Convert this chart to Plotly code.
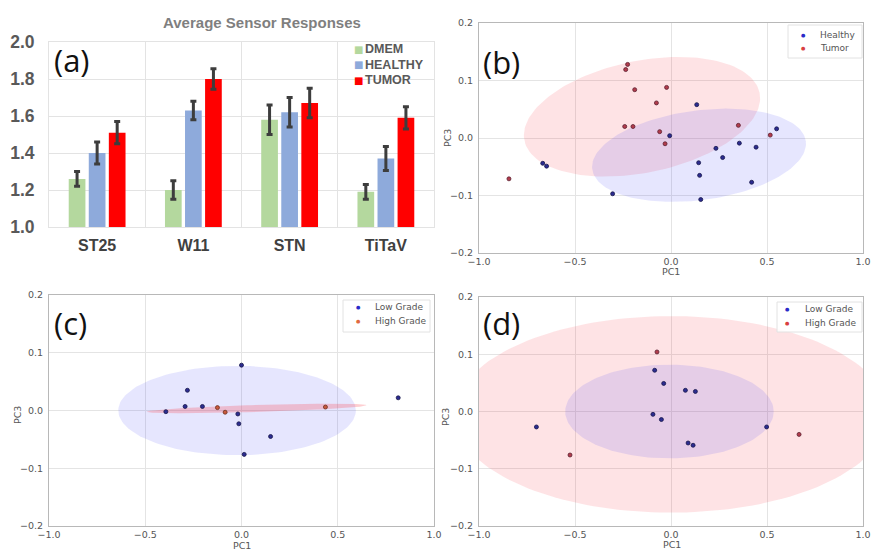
import numpy as np
import plotly.graph_objects as go

W, H = 872, 550

# ---------------- Panel (a) data ----------------
sensors = ["ST25", "W11", "STN", "TiTaV"]
dmem = [1.26, 1.20, 1.58, 1.19]
dmem_err = [0.04, 0.05, 0.08, 0.04]
healthy = [1.40, 1.63, 1.62, 1.37]
healthy_err = [0.06, 0.05, 0.08, 0.065]
tumor = [1.51, 1.80, 1.67, 1.59]
tumor_err = [0.06, 0.055, 0.08, 0.06]

# ---------------- Panel (b) data ----------------
b_healthy_x = [-0.007, 0.134, 0.144, 0.149, 0.155, 0.234, 0.269, 0.356, 0.443, 0.550, 0.420, -0.304, -0.668, -0.648]
b_healthy_y = [0.004, 0.058, -0.043, -0.065, -0.107, -0.018, -0.034, -0.009, -0.016, 0.016, -0.077, -0.097, -0.044, -0.049]
b_tumor_x = [-0.844, -0.226, -0.236, -0.189, -0.023, -0.076, -0.241, -0.198, -0.059, -0.031, 0.351, 0.517]
b_tumor_y = [-0.071, 0.128, 0.119, 0.084, 0.088, 0.061, 0.020, 0.020, 0.011, -0.010, 0.022, 0.005]
# ellipse params: center x, center y, semi-axis a, semi-axis b (x units), angle (deg, visual)
b_tumor_ell = (-0.151, 0.037, 0.625, 0.292, 11.5)
b_healthy_ell = (0.146, -0.030, 0.561, 0.234, 7.5)

# ---------------- Panel (c) data ----------------
c_low_x = [0.000, -0.281, -0.293, -0.203, -0.393, -0.019, -0.014, 0.151, 0.014, 0.814]
c_low_y = [0.0785, 0.035, 0.007, 0.007, -0.002, -0.006, -0.023, -0.045, -0.076, 0.022]
c_high_x = [-0.125, -0.085, 0.436]
c_high_y = [0.005, -0.003, 0.006]
c_low_ell = (-0.023, 0.0, 0.617, 0.232, 0.0)
c_high_ell = (0.078, 0.0035, 0.571, 0.018, 1.7)

# ---------------- Panel (d) data ----------------
d_low_x = [-0.701, -0.085, -0.038, 0.075, 0.127, -0.094, -0.050, 0.089, 0.115, 0.498]
d_low_y = [-0.027, 0.072, 0.049, 0.037, 0.035, -0.005, -0.014, -0.055, -0.059, -0.027]
d_high_x = [-0.073, -0.526, 0.667]
d_high_y = [0.104, -0.076, -0.040]
d_high_ell = (0.0, -0.005, 1.13, 0.515, 0.0)
d_low_ell = (-0.008, 0.0, 0.543, 0.2457, 0.0)

# colors
C_DMEM = "#b4d89e"
C_HEALTHY = "#8eaadb"
C_TUMOR = "#ff0000"
PINK_FILL = "rgba(250,60,70,0.14)"
BLUE_FILL = "rgba(60,60,245,0.13)"
PT_BLUE = "#2c2c90"
PT_RED = "#b23c4c"
PT_ORANGE = "#c8583c"

K = 3.0  # visual aspect (y units -> x units)


def ellipse(p, n=160):
    cx, cy, a, b, ang = p
    t = np.linspace(0, 2 * np.pi, n)
    th = np.radians(ang)
    x = cx + a * np.cos(th) * np.cos(t) - b * np.sin(th) * np.sin(t)
    y = cy + (a * np.sin(th) * np.cos(t) + b * np.cos(th) * np.sin(t)) / K
    return x, y


fig = go.Figure()

# ---- bars (a)
for name, vals, errs, col in [("DMEM", dmem, dmem_err, C_DMEM),
                              ("HEALTHY", healthy, healthy_err, C_HEALTHY),
                              ("TUMOR", tumor, tumor_err, C_TUMOR)]:
    fig.add_trace(go.Bar(x=sensors, y=vals, name=name, marker_color=col, marker_line_width=0,
                         error_y=dict(type="data", array=errs, color="#3d3d3d", thickness=3, width=3),
                         xaxis="x", yaxis="y", showlegend=False))


def add_ell(p, fill, xa, ya):
    ex, ey = ellipse(p)
    fig.add_trace(go.Scatter(x=ex, y=ey, mode="lines", fill="toself", fillcolor=fill,
                             line=dict(width=0), hoverinfo="skip", showlegend=False,
                             xaxis=xa, yaxis=ya))


def add_pts(xs, ys, col, edge, xa, ya):
    fig.add_trace(go.Scatter(x=xs, y=ys, mode="markers",
                             marker=dict(size=4, color=col, line=dict(color=edge, width=0.8)),
                             showlegend=False, xaxis=xa, yaxis=ya))


# (b)
add_ell(b_tumor_ell, PINK_FILL, "x2", "y2")
add_ell(b_healthy_ell, BLUE_FILL, "x2", "y2")
add_pts(b_healthy_x, b_healthy_y, PT_BLUE, "#16164a", "x2", "y2")
add_pts(b_tumor_x, b_tumor_y, PT_RED, "#5a2030", "x2", "y2")
# (c)
add_ell(c_low_ell, BLUE_FILL, "x3", "y3")
add_ell(c_high_ell, "rgba(250,60,70,0.25)", "x3", "y3")
add_pts(c_low_x, c_low_y, PT_BLUE, "#16164a", "x3", "y3")
add_pts(c_high_x, c_high_y, PT_ORANGE, "#6a3020", "x3", "y3")
# (d)
add_ell(d_high_ell, PINK_FILL, "x4", "y4")
add_ell(d_low_ell, BLUE_FILL, "x4", "y4")
add_pts(d_low_x, d_low_y, PT_BLUE, "#16164a", "x4", "y4")
add_pts(d_high_x, d_high_y, PT_RED, "#5a2030", "x4", "y4")


def px(x):
    return x / W


def py(y):
    return 1 - y / H


dom = {
    "a": ([49, 434], [42, 227]),
    "b": ([479, 863], [23, 253]),
    "c": ([49, 434], [295, 526]),
    "d": ([479, 863], [297, 526]),
}


def xd(k):
    return [px(dom[k][0][0]), px(dom[k][0][1])]


def yd(k):
    return [py(dom[k][1][1]), py(dom[k][1][0])]


sc_font = dict(family="DejaVu Sans", size=9.5, color="#555555")


def sc_x(k):
    return dict(domain=xd(k), range=[-1, 1], dtick=0.5, tick0=0, tickformat=".1f",
                showline=True, linecolor="#b8b8b8", linewidth=1, mirror=True,
                showgrid=True, gridcolor="#e4e4e4", zeroline=False, ticks="", ticklen=0,
                tickfont=sc_font, ticklabelstandoff=0, automargin=False)


def sc_y(k):
    return dict(domain=yd(k), range=[-0.2, 0.2], dtick=0.1, tick0=0, tickformat=".1f",
                showline=True, linecolor="#b8b8b8", linewidth=1, mirror=True,
                showgrid=True, gridcolor="#e4e4e4", zeroline=False, ticks="", ticklen=0,
                tickfont=sc_font, ticklabelstandoff=3, automargin=False)


layout = dict(
    width=W, height=H, margin=dict(l=0, r=0, t=0, b=0, autoexpand=False),
    paper_bgcolor="white", plot_bgcolor="white",
    barmode="group", bargap=0.375, bargroupgap=0.167,
    xaxis=dict(domain=xd("a"), type="category", tickson="boundaries", showgrid=True,
               gridcolor="#e3e3e3", ticks="", ticklen=0, showline=True, linecolor="#e3e3e3", mirror=True,
               tickfont=dict(family="Liberation Sans", size=16, color="#404040", weight="bold"),
               ticklabelstandoff=4, automargin=False),
    yaxis=dict(domain=yd("a"), range=[1.0, 2.0], dtick=0.2, tickformat=".1f", showgrid=True,
               gridcolor="#e3e3e3", zeroline=False, showline=True, linecolor="#e3e3e3", mirror=True,
               ticks="", ticklen=0, tickfont=dict(family="Liberation Sans", size=17.5, color="#595959", weight="bold"),
               ticklabelstandoff=10, automargin=False),
    xaxis2=dict(sc_x("b"), anchor="y2"), yaxis2=dict(sc_y("b"), anchor="x2"),
    xaxis3=dict(sc_x("c"), anchor="y3"), yaxis3=dict(sc_y("c"), anchor="x3"),
    xaxis4=dict(sc_x("d"), anchor="y4"), yaxis4=dict(sc_y("d"), anchor="x4"),
)
fig.update_layout(**layout)

ann = []
shapes = []


def text(x, y, s, size, color, family="DejaVu Sans", weight="normal", xanchor="center", angle=0):
    ann.append(dict(x=px(x), y=py(y), xref="paper", yref="paper", text=s, showarrow=False,
                    xanchor=xanchor, yanchor="middle", textangle=angle,
                    font=dict(size=size, color=color, family=family, weight=weight)))


# title (a)
text(262, 22, "Average Sensor Responses", 15, "#7f7f7f", family="Liberation Sans", weight="bold")
# bar legend
for yy, lab, col in [(49, "DMEM", C_DMEM), (64.5, "HEALTHY", C_HEALTHY), (80, "TUMOR", C_TUMOR)]:
    text(358, yy, "■", 10, col, family="DejaVu Sans")
    text(363, yy, lab, 12.5, "#595959", family="Liberation Sans", weight="bold", xanchor="left")

# panel labels
for x, y, s in [(52, 60, "(a)"), (481, 62, "(b)"), (52, 323, "(c)"), (481, 323, "(d)")]:
    text(x, y, s, 31, "#111111", family="Open Sans", xanchor="left")

# axis titles
for x, y in [(671, 271), (242, 545), (672, 544)]:
    text(x, y, "PC1", 9.5, "#555555")
for x, y in [(447, 138), (17, 415), (445, 417)]:
    text(x, y, "PC3", 9.5, "#555555", angle=-90)

# scatter legends
legs = [
    ((788, 25, 862, 58), [(35, "Healthy", "#2a2ac8"), (48, "Tumor", "#d84040")], 803, 818),
    ((343, 300, 430, 332), [(307, "Low Grade", "#2a2ac8"), (321, "High Grade", "#e06a40")], 358, 373),
    ((777, 302, 862, 332), [(309, "Low Grade", "#2a2ac8"), (323, "High Grade", "#d84040")], 787, 803),
]
for (x0, y0, x1, y1), items, mx, tx in legs:
    shapes.append(dict(type="rect", xref="paper", yref="paper", x0=px(x0), x1=px(x1),
                       y0=py(y1), y1=py(y0), fillcolor="rgba(255,255,255,0.85)",
                       line=dict(color="#e2e2e2", width=1), layer="above"))
    for yy, lab, col in items:
        text(mx, yy, "●", 5, col)
        text(tx, yy, lab, 9, "#555555", xanchor="left")

fig.update_layout(annotations=ann, shapes=shapes)
fig.write_html("out.html", config={"displayModeBar": False},
               post_script="document.body.style.margin='0px';document.body.style.overflow='hidden';")
